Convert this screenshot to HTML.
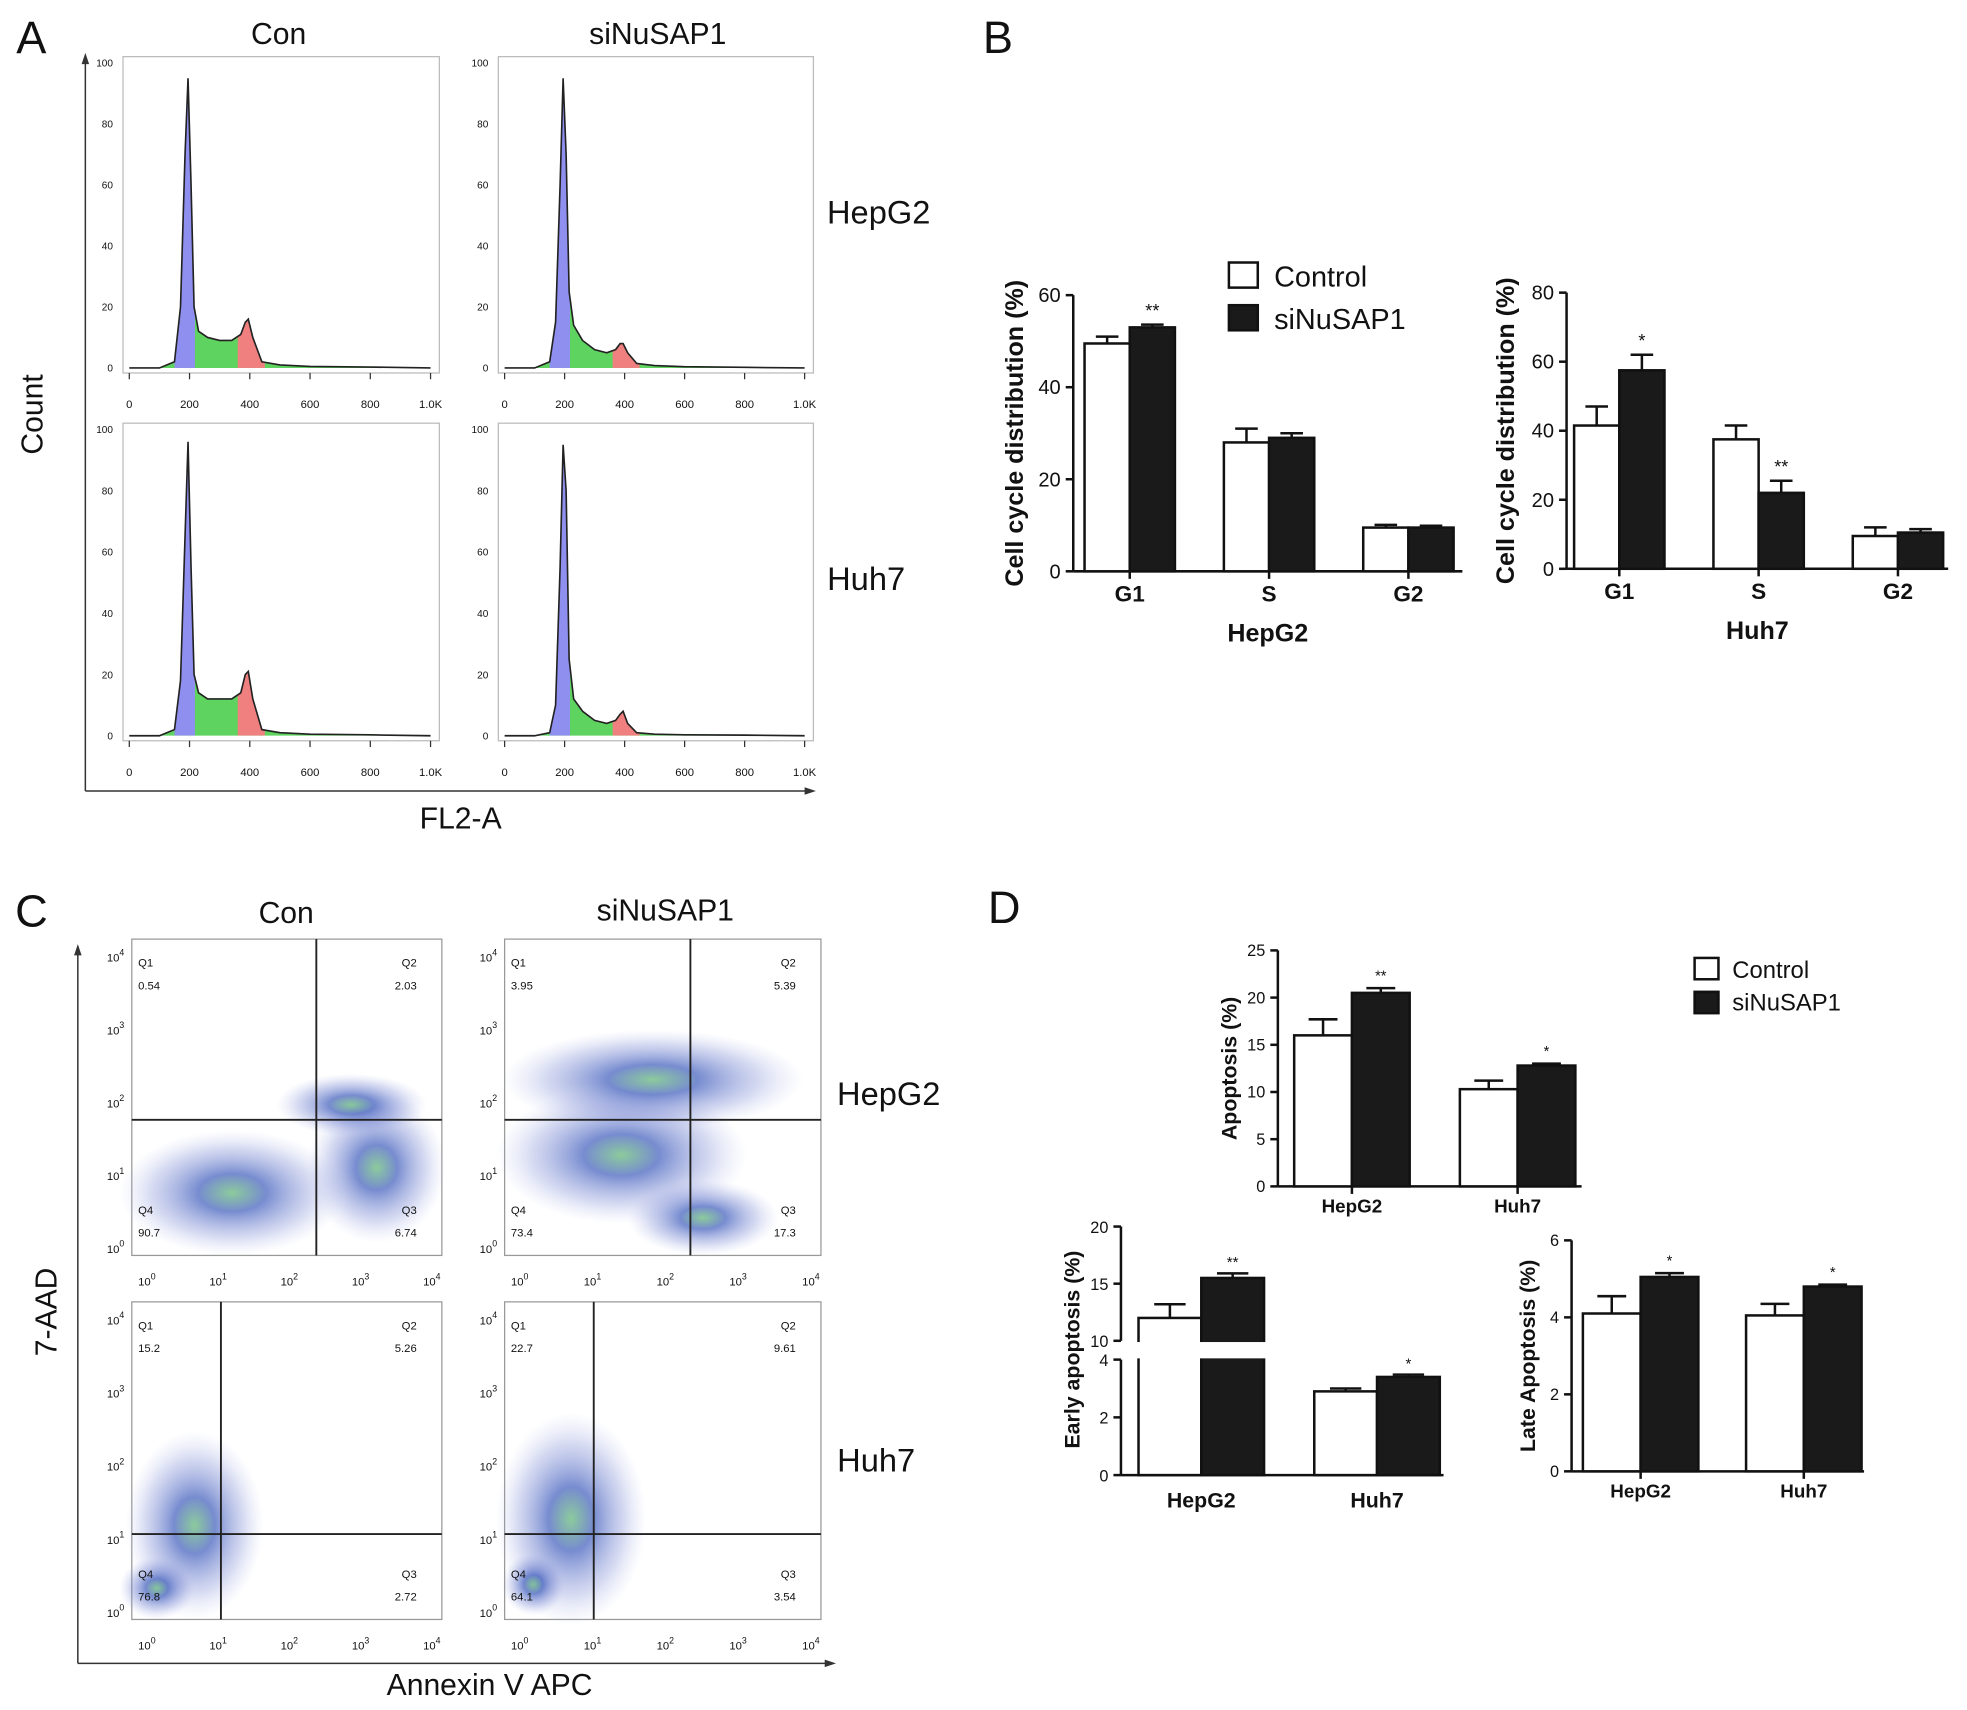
<!DOCTYPE html>
<html><head><meta charset="utf-8">
<style>
html,body{margin:0;padding:0;background:#fff;}
svg{display:block;font-family:"Liberation Sans",Arial,sans-serif;}
</style></head>
<body>
<svg id="fig" width="1967" height="1710" viewBox="0 0 1567 1362" xmlns="http://www.w3.org/2000/svg">
<defs>
<radialGradient id="dens" cx="50%" cy="50%" r="50%">
<stop offset="0%" stop-color="#3fa85a"/><stop offset="30%" stop-color="#1c3fb0"/><stop offset="70%" stop-color="#6f7fd0" stop-opacity="0.5"/><stop offset="100%" stop-color="#aab4e8" stop-opacity="0"/>
</radialGradient>
</defs>
</svg>
<script>
const NS="http://www.w3.org/2000/svg";
const svg=document.getElementById('fig');
function el(tag,attrs,parent,text){const e=document.createElementNS(NS,tag);for(const k in attrs)e.setAttribute(k,attrs[k]);if(text!==undefined)e.textContent=text;(parent||svg).appendChild(e);return e;}
function txt(x,y,s,size,opt){opt=opt||{};const t=el('text',{x:x,y:y,'font-size':size,'text-anchor':opt.anchor||'middle','font-weight':opt.bold?'bold':'normal',fill:'#111'},opt.parent,s);if(opt.rot)t.setAttribute('transform','rotate(-90 '+x+' '+y+')');return t;}

// ===== Panel A data =====
const histChannels=[0,100,150,170,185,195,205,215,230,260,300,340,370,385,395,410,440,500,600,800,1000];
const histConHep=[0,0,2,20,70,95,60,20,12,10,9,9,11,15,16,10,2,1,0.5,0.3,0];
const histSiHep=[0,0,2,15,60,95,70,25,14,9,6,5,6,8,8,5,1.5,0.8,0.4,0.2,0];
const histConHuh=[0,0,2,18,65,96,55,20,14,12,12,12,14,20,21,12,2,1,0.5,0.3,0];
const histSiHuh=[0,0,1,10,55,95,80,25,12,8,5,4,5,7,8,4,1,0.5,0.3,0.2,0];
const histXTicks=['0','200','400','600','800','1.0K'];
const histYTicks=[0,20,40,60,80,100];

const panelA=[
 {x0:98,x1:350,y0:45,y1:297,data:histConHep,name:'hist-con-hepg2'},
 {x0:397,x1:648,y0:45,y1:297,data:histSiHep,name:'hist-sinusap1-hepg2'},
 {x0:98,x1:350,y0:337,y1:590,data:histConHuh,name:'hist-con-huh7'},
 {x0:397,x1:648,y0:337,y1:590,data:histSiHuh,name:'hist-sinusap1-huh7'}];
panelA.forEach((p,i)=>{
 const g=el('g',{});
 
 
 el('rect',{x:p.x0,y:p.y0,width:p.x1-p.x0,height:p.y1-p.y0,fill:'none',stroke:'#bbb','stroke-width':1},g);
 const sx=v=>p.x0+5+v/1000*(p.x1-p.x0-12);
 const sy=v=>p.y1-4-v/100*(p.y1-p.y0-9);
 let d='M'+sx(0)+','+sy(0);
 p.data.forEach((c,j)=>{d+=' L'+sx(histChannels[j]).toFixed(1)+','+sy(c).toFixed(1);});
 const cid='clipA'+i;
 const cp=el('clipPath',{id:cid},svg.querySelector('defs'));
 el('path',{d:d+' Z'},cp);
 const cg=el('g',{'clip-path':'url(#'+cid+')'},g);
 el('rect',{x:sx(0),y:p.y0,width:sx(1000)-sx(0),height:p.y1-p.y0,fill:'#5fd35f'},cg);
 el('rect',{x:sx(150),y:sy(100),width:sx(218)-sx(150),height:sy(0)-sy(100),fill:'#8f8ff0'},cg);
 el('rect',{x:sx(360),y:sy(100),width:sx(450)-sx(360),height:sy(0)-sy(100),fill:'#f08080'},cg);
 el('path',{d:d,fill:'none',stroke:'#222','stroke-width':1.3},g);
 histXTicks.forEach((t,k)=>{const x=sx(k*200);el('line',{x1:x,y1:p.y1,x2:x,y2:p.y1+5,stroke:'#333'},g);txt(x,p.y1+28,t,9,{parent:g});});
 histYTicks.forEach(t=>{const y=sy(t);txt(p.x0-8,y+3,String(t),8,{parent:g,anchor:'end'});});
});
el('line',{x1:68,y1:45,x2:68,y2:630,stroke:'#333','stroke-width':1.2});
el('line',{x1:68,y1:630,x2:645,y2:630,stroke:'#333','stroke-width':1.2});
el('path',{d:'M650,630 l-9,-3 v6 z',fill:'#333'});
el('path',{d:'M68,42 l-3,9 h6 z',fill:'#333'});
txt(25,42,'A',36);
txt(222,35,'Con',24);txt(524,35,'siNuSAP1',24);
txt(700,178,'HepG2',26);txt(690,470,'Huh7',26);
txt(34,330,'Count',24,{rot:true});
txt(367,660,'FL2-A',24);

// ===== Panel B data =====
const cycleCats=['G1','S','G2'];
const hepCtrl=[49.5,28,9.5], hepCtrlErr=[1.5,3,0.6];
const hepSi=[53,29,9.5], hepSiErr=[0.6,1,0.4];
const hepSig=['**','',''];
const huhCtrl=[41.5,37.5,9.5], huhCtrlErr=[5.5,4,2.5];
const huhSi=[57.5,22,10.5], huhSiErr=[4.5,3.5,1];
const huhSig=['*','**',''];
const hepTicks=[0,20,40,60], huhTicks=[0,20,40,60,80];

function barChart(o){
 const g=el('g',{});
 
 
 const sy=v=>o.yb-(v-o.min)/(o.max-o.min)*(o.yb-o.yt);
 el('line',{x1:o.ax,y1:o.yt,x2:o.ax,y2:o.yb,stroke:'#111','stroke-width':2},g);
 el('line',{x1:o.ax,y1:o.yb,x2:o.ax2,y2:o.yb,stroke:'#111','stroke-width':2},g);
 o.ticks.forEach(t=>{const y=sy(t);el('line',{x1:o.ax-6,y1:y,x2:o.ax,y2:y,stroke:'#111','stroke-width':2},g);txt(o.ax-10,y+o.fs*0.35,String(t),o.fs,{parent:g,anchor:'end'});});
 o.cats.forEach((c,i)=>{
  const cx=o.c0+i*o.step;
  [[o.ctrl,o.ctrlErr,'#fff',cx-o.bw],[o.si,o.siErr,'#1a1a1a',cx]].forEach(([vals,errs,fill,x])=>{
   const v=vals[i],e=errs[i];
   const r=el('rect',{x:x,y:sy(v),width:o.bw,height:o.yb-sy(v),fill:fill,stroke:'#111','stroke-width':2},g);
   
   
   const xm=x+o.bw/2;
   el('line',{x1:xm,y1:sy(v),x2:xm,y2:sy(v+e),stroke:'#111','stroke-width':2},g);
   el('line',{x1:xm-o.bw/4,y1:sy(v+e),x2:xm+o.bw/4,y2:sy(v+e),stroke:'#111','stroke-width':2},g);
  });
  if(o.sig[i])txt(cx+o.bw/2,sy(o.si[i]+o.siErr[i])-6,o.sig[i],o.fs*0.9,{parent:g});
  el('line',{x1:cx,y1:o.yb,x2:cx,y2:o.yb+6,stroke:'#111','stroke-width':2},g);
  txt(cx,o.yb+o.fs+8,c,o.fs+2,{parent:g,bold:true});
 });
 if(o.title)txt((o.ax+o.ax2)/2,o.yb+o.fs*2+24,o.title,o.fs+4,{parent:g,bold:true});
 txt(o.ylx,(o.yt+o.yb)/2,o.ylabel,o.yfs,{parent:g,bold:true,rot:true});
 return {g,sy};
}
txt(795,42,'B',36);
barChart({name:'chart-cycle-hepg2',cats:cycleCats,ctrl:hepCtrl,ctrlErr:hepCtrlErr,si:hepSi,siErr:hepSiErr,sig:hepSig,ticks:hepTicks,min:0,max:60,ax:855,ax2:1165,yt:235,yb:455,c0:900,step:111,bw:36,fs:16,title:'HepG2',ylx:815,ylabel:'Cell cycle distribution (%)',yfs:20});
barChart({name:'chart-cycle-huh7',cats:cycleCats,ctrl:huhCtrl,ctrlErr:huhCtrlErr,si:huhSi,siErr:huhSiErr,sig:huhSig,ticks:huhTicks,min:0,max:80,ax:1248,ax2:1552,yt:233,yb:453,c0:1290,step:111,bw:36,fs:16,title:'Huh7',ylx:1206,ylabel:'Cell cycle distribution (%)',yfs:20});
el('rect',{x:979,y:209,width:23,height:20,fill:'#fff',stroke:'#111','stroke-width':2});
el('rect',{x:979,y:243,width:23,height:20,fill:'#1a1a1a',stroke:'#111','stroke-width':2});
txt(1015,228,'Control',23,{anchor:'start'});txt(1015,262,'siNuSAP1',23,{anchor:'start'});

// ===== Panel C =====
const quadLabels=[['0.54','2.03','90.7','6.74'],['3.95','5.39','73.4','17.3'],['15.2','5.26','76.8','2.72'],['22.7','9.61','64.1','3.54']];
const logTicks=['0','1','2','3','4'];
const panelC=[
 {x0:105,x1:352,y0:748,y1:1000,vx:252,hy:892,blobs:[[185,950,90,50],[300,930,55,60],[280,880,60,25]],name:'scatter-con-hepg2'},
 {x0:402,x1:654,y0:748,y1:1000,vx:550,hy:892,blobs:[[495,920,100,55],[560,970,60,30],[520,860,120,40]],name:'scatter-sinusap1-hepg2'},
 {x0:105,x1:352,y0:1037,y1:1290,vx:176,hy:1222,blobs:[[155,1215,55,75],[125,1265,30,25]],name:'scatter-con-huh7'},
 {x0:402,x1:654,y0:1037,y1:1290,vx:473,hy:1222,blobs:[[455,1210,60,85],[425,1262,25,25]],name:'scatter-sinusap1-huh7'}];
panelC.forEach((p,i)=>{
 const g=el('g',{});
 
 
 el('rect',{x:p.x0,y:p.y0,width:p.x1-p.x0,height:p.y1-p.y0,fill:'#fff',stroke:'#999'},g);
 p.blobs.forEach(b=>el('ellipse',{cx:b[0],cy:b[1],rx:b[2],ry:b[3],fill:'url(#dens)',opacity:0.6},g));
 el('line',{x1:p.vx,y1:p.y0,x2:p.vx,y2:p.y1,stroke:'#222','stroke-width':1.5},g);
 el('line',{x1:p.x0,y1:p.hy,x2:p.x1,y2:p.hy,stroke:'#222','stroke-width':1.5},g);
 const q=quadLabels[i];
 txt(p.x0+5,p.y0+22,'Q1',9,{parent:g,anchor:'start'});txt(p.x0+5,p.y0+40,q[0],9,{parent:g,anchor:'start'});
 txt(p.x1-20,p.y0+22,'Q2',9,{parent:g,anchor:'end'});txt(p.x1-20,p.y0+40,q[1],9,{parent:g,anchor:'end'});
 txt(p.x0+5,p.y1-33,'Q4',9,{parent:g,anchor:'start'});txt(p.x0+5,p.y1-15,q[2],9,{parent:g,anchor:'start'});
 txt(p.x1-20,p.y1-33,'Q3',9,{parent:g,anchor:'end'});txt(p.x1-20,p.y1-15,q[3],9,{parent:g,anchor:'end'});
 logTicks.forEach((t,k)=>{
  const x=p.x0+12+k*(p.x1-p.x0-20)/4;
  const y=p.y1-5-k*(p.y1-p.y0-20)/4;
  const tx=txt(x,p.y1+24,'10',9,{parent:g});el('tspan',{dy:-5,'font-size':7},tx,t);
  const ty=txt(p.x0-6,y+3,'10',9,{parent:g,anchor:'end'});el('tspan',{dy:-5,'font-size':7},ty,t);
 });
});
el('line',{x1:62,y1:758,x2:62,y2:1325,stroke:'#333','stroke-width':1.2});
el('line',{x1:62,y1:1325,x2:660,y2:1325,stroke:'#333','stroke-width':1.2});
el('path',{d:'M666,1325 l-9,-3 v6 z',fill:'#333'});
el('path',{d:'M62,752 l-3,9 h6 z',fill:'#333'});
txt(25,738,'C',36);
txt(228,735,'Con',24);txt(530,733,'siNuSAP1',24);
txt(708,880,'HepG2',26);txt(698,1172,'Huh7',26);
txt(45,1045,'7-AAD',24,{rot:true});
txt(390,1350,'Annexin V APC',24);

// ===== Panel D data =====
const apoCats=['HepG2','Huh7'];
const apoCtrl=[16,10.3], apoCtrlErr=[1.7,0.9];
const apoSi=[20.5,12.8], apoSiErr=[0.5,0.2];
const apoSig=['**','*'];
const apoTicks=[0,5,10,15,20,25];
const lateCtrl=[4.1,4.05], lateCtrlErr=[0.45,0.3];
const lateSi=[5.05,4.8], lateSiErr=[0.1,0.05];
const lateSig=['*','*'];
const lateTicks=[0,2,4,6];
const earlyCtrl=[12,2.9], earlyCtrlErr=[1.2,0.1];
const earlySi=[15.5,3.4], earlySiErr=[0.4,0.08];
const earlySig=['**','*'];
const earlyTicksLow=[0,2,4], earlyTicksHigh=[10,15,20];

txt(800,735,'D',36);
barChart({name:'chart-apoptosis',cats:apoCats,ctrl:apoCtrl,ctrlErr:apoCtrlErr,si:apoSi,siErr:apoSiErr,sig:apoSig,ticks:apoTicks,min:0,max:25,ax:1018,ax2:1260,yt:757,yb:945,c0:1077,step:132,bw:46,fs:13,ylx:985,ylabel:'Apoptosis (%)',yfs:17});
barChart({name:'chart-late-apoptosis',cats:apoCats,ctrl:lateCtrl,ctrlErr:lateCtrlErr,si:lateSi,siErr:lateSiErr,sig:lateSig,ticks:lateTicks,min:0,max:6,ax:1252,ax2:1485,yt:988,yb:1172,c0:1307,step:130,bw:46,fs:13,ylx:1223,ylabel:'Late Apoptosis (%)',yfs:17});
(function(){
 const g=el('g',{});
 
 
 const ax=893,ylb=1175,ylt=1083,yhb=1068,yht=977,bw=50,c0=957,step=140;
 const sy=v=>v<=4?ylb-v/4*(ylb-ylt):(v<10?ylt:yhb-(v-10)/10*(yhb-yht));
 el('line',{x1:ax,y1:yht,x2:ax,y2:yhb,stroke:'#111','stroke-width':2},g);
 el('line',{x1:ax,y1:ylt,x2:ax,y2:ylb,stroke:'#111','stroke-width':2},g);
 el('line',{x1:ax,y1:ylb,x2:1150,y2:ylb,stroke:'#111','stroke-width':2},g);
 earlyTicksLow.concat(earlyTicksHigh).forEach(t=>{const y=sy(t);el('line',{x1:ax-6,y1:y,x2:ax,y2:y,stroke:'#111','stroke-width':2},g);txt(ax-10,y+5,String(t),13,{parent:g,anchor:'end'});});
 apoCats.forEach((c,i)=>{
  const cx=c0+i*step;
  [[earlyCtrl,earlyCtrlErr,'#fff',cx-bw],[earlySi,earlySiErr,'#1a1a1a',cx]].forEach(([vals,errs,fill,x])=>{
   const v=vals[i],e=errs[i];
   const r=el('rect',{x:x,y:sy(v),width:bw,height:ylb-sy(v),fill:fill,stroke:'#111','stroke-width':2},g);
   
   
   if(v>4)el('rect',{x:x-2,y:yhb+1,width:bw+4,height:ylt-yhb-2,fill:'#fff'},g);
   const xm=x+bw/2;
   el('line',{x1:xm,y1:sy(v),x2:xm,y2:sy(v+e),stroke:'#111','stroke-width':2},g);
   el('line',{x1:xm-bw/4,y1:sy(v+e),x2:xm+bw/4,y2:sy(v+e),stroke:'#111','stroke-width':2},g);
  });
  txt(cx+bw/2,sy(earlySi[i]+earlySiErr[i])-5,earlySig[i],12,{parent:g});
  txt(cx,ylb+26,c,17,{parent:g,bold:true});
 });
 txt(860,1075,'Early apoptosis (%)',17,{parent:g,bold:true,rot:true});
})();
el('rect',{x:1350,y:763,width:19,height:17,fill:'#fff',stroke:'#111','stroke-width':2});
el('rect',{x:1350,y:790,width:19,height:17,fill:'#1a1a1a',stroke:'#111','stroke-width':2});
txt(1380,779,'Control',19,{anchor:'start'});txt(1380,805,'siNuSAP1',19,{anchor:'start'});
</script>
</body></html>
